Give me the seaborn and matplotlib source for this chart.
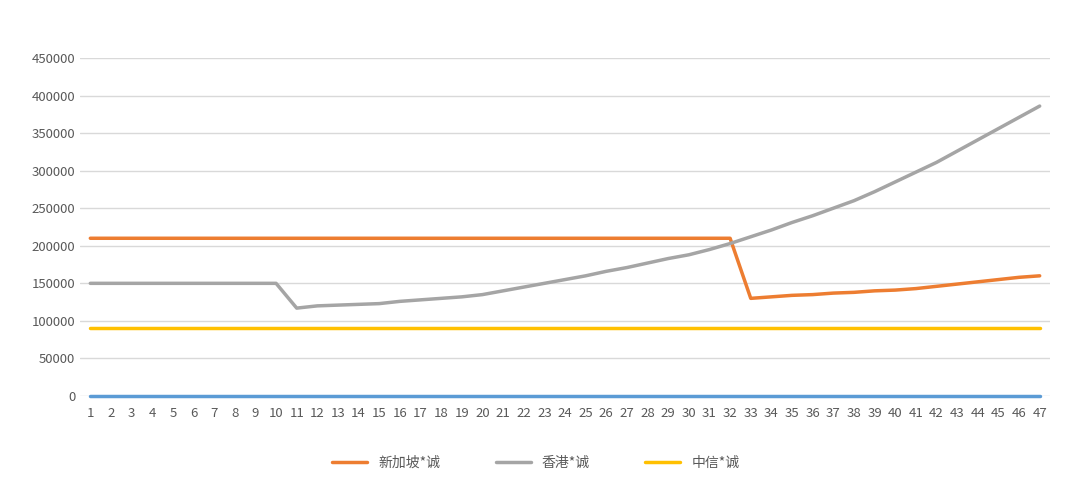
import numpy as np
import pandas as pd
import seaborn as sns
import matplotlib.pyplot as plt

periods = list(range(1, 48))
singapore = [210000] * 32 + [130000, 132000, 134000, 135000, 137000, 138000, 140000, 141000,
                              143000, 146000, 149000, 152000, 155000, 158000, 160000]
hongkong = [150000] * 10 + [117000, 120000, 121000, 122000, 123000, 126000, 128000, 130000, 132000, 135000,
                            140000, 145000, 150000, 155000, 160000, 166000, 171000, 177000, 183000, 188000,
                            195000, 203000, 212000, 221000, 231000, 240000, 250000, 260000, 272000, 285000,
                            298000, 311000, 326000, 341000, 356000, 371000, 386000]
citic = [90000] * 47
baseline = [0] * 47

sns.set_theme(style="white")
plt.rcParams['font.family'] = ['Noto Sans CJK SC', 'DejaVu Sans']

fig = plt.figure(figsize=(10.8, 4.87), dpi=100)
ax = fig.add_axes([80 / 1080, 91 / 487, 970 / 1080, 338 / 487])

df = pd.DataFrame({"period": periods, "新加坡*诚": singapore, "香港*诚": hongkong,
                   "中信*诚": citic, "base": baseline})
ax.plot(df["period"], df["base"], color="#5b9bd5", lw=2.5, clip_on=False, zorder=3)
sns.lineplot(data=df, x="period", y="新加坡*诚", ax=ax, color="#ed7d31", lw=2.5, label="新加坡*诚")
sns.lineplot(data=df, x="period", y="香港*诚", ax=ax, color="#a5a5a5", lw=2.5, label="香港*诚")
sns.lineplot(data=df, x="period", y="中信*诚", ax=ax, color="#ffc000", lw=2.5, label="中信*诚")

ax.set_xlim(0.5, 47.5)
ax.set_ylim(0, 450000)
ax.set_yticks(np.arange(0, 450001, 50000))
ax.set_xticks(periods)
ax.tick_params(labelsize=9.5, colors="#595959", length=0)
ax.tick_params(axis="x", pad=8)
ax.grid(axis="y", color="#d9d9d9", lw=1)
for s in ax.spines.values():
    s.set_visible(False)
ax.set_xlabel("")
ax.set_ylabel("")
ax.legend(loc="upper center", bbox_to_anchor=(0.47, -0.14), ncol=3, frameon=False,
          fontsize=10, labelcolor="#595959", handlelength=2.5, columnspacing=4)

fig.savefig("out.png", dpi=100)
